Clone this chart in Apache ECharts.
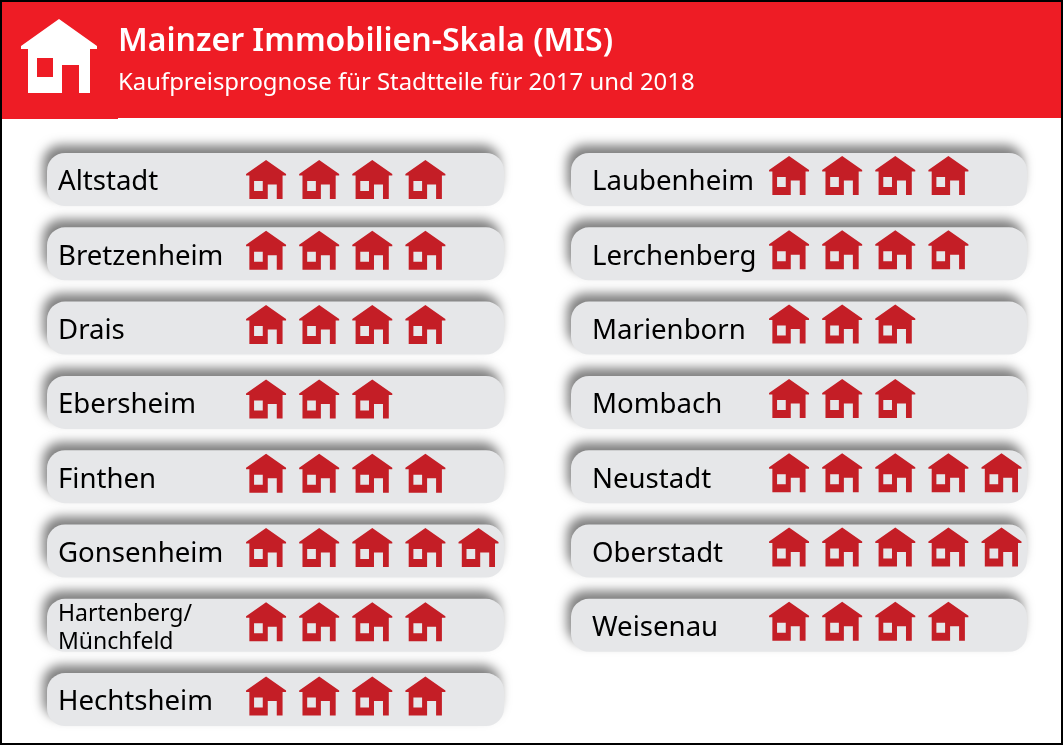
<!DOCTYPE html>
<html>
<head>
<meta charset="utf-8">
<title>Mainzer Immobilien-Skala</title>
<script src="https://cdn.jsdelivr.net/npm/echarts@6/dist/echarts.min.js"></script>
<style>
	html, body { margin: 0; padding: 0; background: #fff; }
	#chart { width: 1063px; height: 745px; }
</style>
</head>
<body>
<div id="chart"></div>
<script>
var leftDistricts = ['Altstadt', 'Bretzenheim', 'Drais', 'Ebersheim', 'Finthen', 'Gonsenheim', 'Hartenberg/\nMünchfeld', 'Hechtsheim'];
var leftHouses = [4, 4, 4, 3, 4, 5, 4, 4];
var rightDistricts = ['Laubenheim', 'Lerchenberg', 'Marienborn', 'Mombach', 'Neustadt', 'Oberstadt', 'Weisenau'];
var rightHouses = [4, 4, 3, 3, 5, 5, 4];

var titleText = 'Mainzer Immobilien-Skala (MIS)';
var subtitleText = 'Kaufpreisprognose für Stadtteile für 2017 und 2018';

var FONT = '"Noto Sans", sans-serif';
var RED = '#ee1c25';
var HOUSE_RED = '#c41e26';
var PILL = '#e6e7e9';

// roof, walls and door as one outline, window cut out with the opposite winding
var housePath = 'M20 0 L40 14 L40 15.5 L36.5 15.5 L36.5 39 L30.7 39 L30.7 24.5 L21.7 24.5 L21.7 39 L3.3 39 L3.3 15.5 L0 15.5 L0 14 Z ' +
	'M8 21 L8 31 L16.7 31 L16.7 21 Z';

// one pill row of the picture per category, houses on top of it
function pillSeries(axisIndex, values) {
	return {
		type: 'bar',
		xAxisIndex: axisIndex,
		yAxisIndex: axisIndex,
		data: values,
		barWidth: 53,
		silent: true,
		z: 1,
		itemStyle: { color: 'transparent' },
		showBackground: true,
		backgroundStyle: {
			color: PILL,
			borderRadius: 18,
			shadowColor: 'rgba(0,0,0,0.5)',
			shadowBlur: 11,
			shadowOffsetX: -4,
			shadowOffsetY: -8
		}
	};
}

function houseSeries(axisIndex, values, nudge) {
	return {
		type: 'pictorialBar',
		xAxisIndex: axisIndex,
		yAxisIndex: axisIndex,
		data: values,
		symbol: 'path://' + housePath,
		symbolSize: [40, 39],
		symbolRepeat: true,
		// margin and bounding a bit over one unit, otherwise rounding adds a house
		symbolMargin: '6.6!',
		symbolBoundingData: 5.01,
		symbolPosition: 'start',
		symbolOffset: [0, nudge],
		itemStyle: { color: HOUSE_RED },
		z: 3
	};
}

function valueAxis(gridIndex, min) {
	return { type: 'value', gridIndex: gridIndex, min: min, max: 4.99, show: false };
}

function districtAxis(gridIndex, names, labelMargin) {
	return {
		type: 'category',
		gridIndex: gridIndex,
		data: names,
		inverse: true,
		z: 5,
		axisLine: { show: false },
		axisTick: { show: false },
		axisLabel: {
			inside: true,
			margin: labelMargin,
			interval: 0,
			color: '#000',
			fontFamily: FONT,
			fontSize: 27.6,
			padding: [6, 0, 0, 0],
			formatter: function (value) {
				// the two line name is set smaller
				return value.indexOf('\n') > -1 ? '{small|' + value.split('\n').join('}\n{small|') + '}' : value;
			},
			rich: {
				small: { fontFamily: FONT, fontSize: 23, lineHeight: 28, color: '#000' }
			}
		}
	};
}

var myChart = echarts.init(document.getElementById('chart'));

var option = {
	animation: false,
	backgroundColor: '#fff',
	title: {
		text: titleText,
		subtext: subtitleText,
		left: 113,
		top: 21,
		itemGap: 13,
		textStyle: { color: '#fff', fontFamily: FONT, fontSize: 32, fontWeight: 600 },
		subtextStyle: { color: '#fff', fontFamily: FONT, fontSize: 23.9 },
		z: 10
	},
	grid: [
		{ left: 47, width: 457, top: 142.35, height: 594.4 },
		{ left: 571, width: 456, top: 142.35, height: 520.1 }
	],
	xAxis: [valueAxis(0, -3.632), valueAxis(1, -3.613)],
	yAxis: [districtAxis(0, leftDistricts, 11), districtAxis(1, rightDistricts, 21)],
	series: [
		pillSeries(0, leftHouses),
		pillSeries(1, rightHouses),
		houseSeries(0, leftHouses.map(function (v, i) {
			// the first row sits lower in the original
			return i === 0 ? { value: v, symbolOffset: [0, 0] } : v;
		}), -3.5),
		houseSeries(1, rightHouses, -4)
	],
	graphic: [
		{ type: 'rect', z: 0, silent: true, shape: { x: 1, y: 1, width: 1061, height: 117 }, style: { fill: RED } },
		{ type: 'rect', z: 0, silent: true, shape: { x: 1, y: 118, width: 117, height: 1 }, style: { fill: RED } },
		{
			type: 'polygon', z: 1, silent: true,
			shape: { points: [[59, 19], [97, 46], [97, 49], [90, 49], [90, 93], [79, 93], [79, 65], [62, 65], [62, 93], [28, 93], [28, 49], [21, 49], [21, 46]] },
			style: { fill: '#fff' }
		},
		{ type: 'rect', z: 2, silent: true, shape: { x: 37, y: 58, width: 16, height: 19 }, style: { fill: RED } },
		{ type: 'rect', z: 20, silent: true, shape: { x: 1, y: 1, width: 1061, height: 743 }, style: { fill: 'none', stroke: '#000', lineWidth: 2 } }
	]
};

myChart.setOption(option);
</script>
</body>
</html>
